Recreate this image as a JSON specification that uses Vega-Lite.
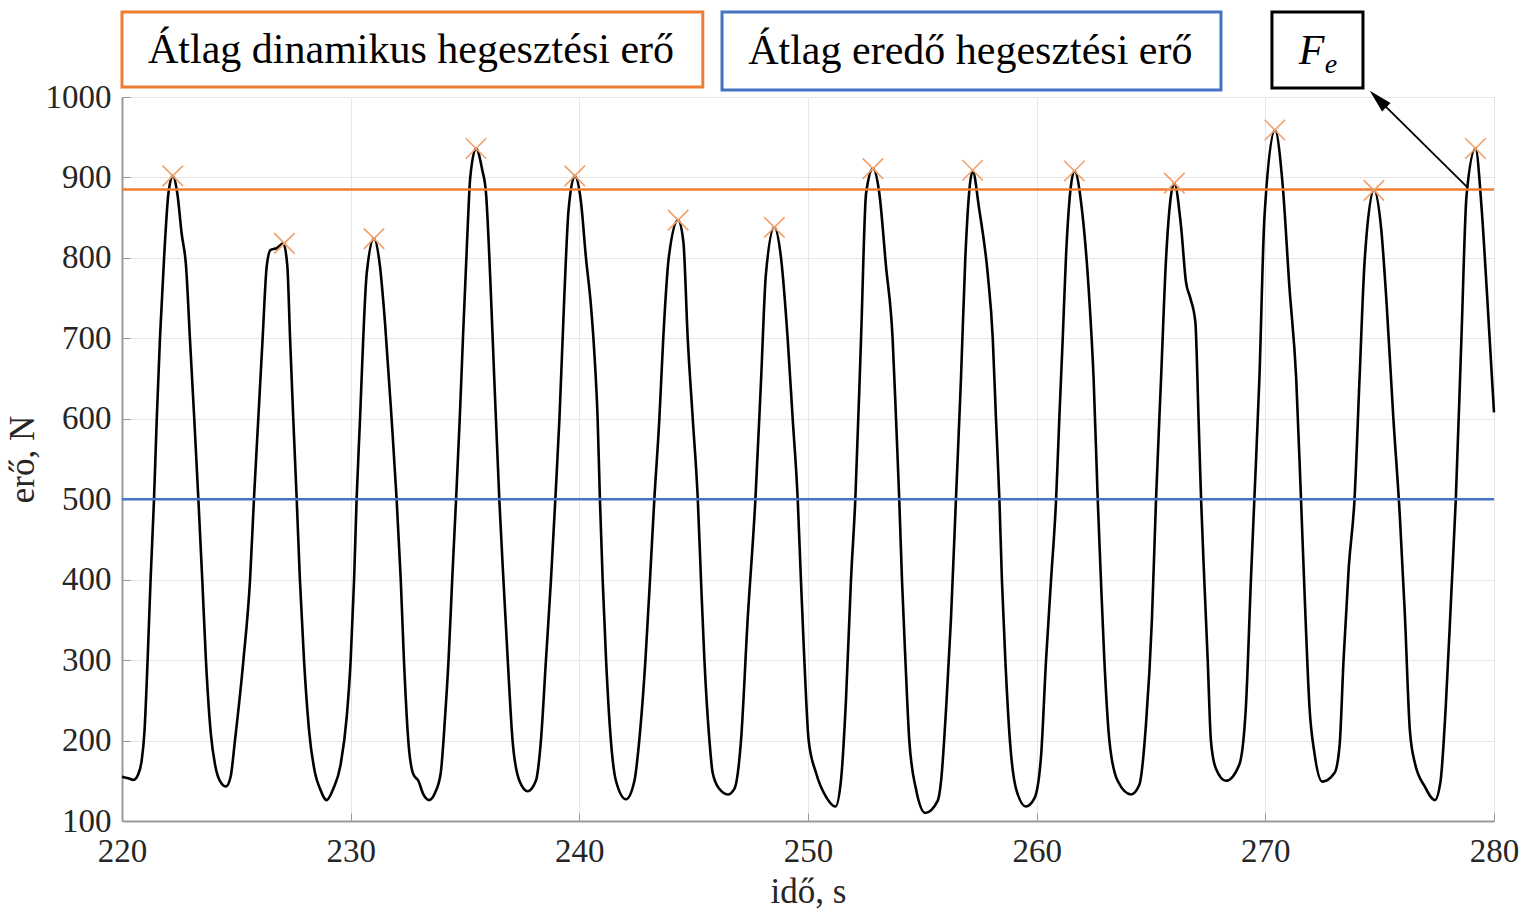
{
  "$schema": "https://vega.github.io/schema/vega-lite/v6.json",
  "width": 1372,
  "height": 724,
  "autosize": {"type": "none"},
  "padding": {"left": 122, "top": 97, "right": 30, "bottom": 89},
  "background": "white",
  "config": {
    "view": {"stroke": "#d4d4d4", "strokeWidth": 1},
    "axis": {
      "labelFont": "Liberation Serif",
      "titleFont": "Liberation Serif",
      "labelFontSize": 33,
      "titleFontSize": 35,
      "labelColor": "#262626",
      "titleColor": "#262626",
      "titleFontWeight": "normal",
      "gridColor": "#e6e6e6",
      "gridWidth": 1,
      "domainColor": "#9a9a9a",
      "domainWidth": 2,
      "tickColor": "#9a9a9a",
      "tickWidth": 1,
      "labelFlush": false
    }
  },
  "datasets": {
    "series": [
      {"t":220.0,"f":155},{"t":220.28,"f":153},{"t":220.5,"f":151},{"t":220.71,"f":158},{"t":220.86,"f":175},{"t":220.98,"f":210},{"t":221.12,"f":300},{"t":221.25,"f":400},{"t":221.4,"f":500},{"t":221.52,"f":600},{"t":221.66,"f":700},{"t":221.84,"f":800},{"t":222.03,"f":880},{"t":222.22,"f":902},{"t":222.42,"f":880},{"t":222.61,"f":830},{"t":222.8,"f":790},{"t":222.97,"f":700},{"t":223.16,"f":600},{"t":223.34,"f":500},{"t":223.51,"f":400},{"t":223.67,"f":300},{"t":223.88,"f":210},{"t":224.07,"f":170},{"t":224.28,"f":150},{"t":224.55,"f":143},{"t":224.75,"f":155},{"t":224.94,"f":200},{"t":225.31,"f":300},{"t":225.6,"f":400},{"t":225.77,"f":500},{"t":225.96,"f":600},{"t":226.15,"f":700},{"t":226.33,"f":790},{"t":226.5,"f":810},{"t":226.76,"f":812},{"t":227.06,"f":818},{"t":227.23,"f":790},{"t":227.35,"f":700},{"t":227.49,"f":600},{"t":227.64,"f":500},{"t":227.78,"f":400},{"t":227.96,"f":300},{"t":228.19,"f":210},{"t":228.44,"f":160},{"t":228.66,"f":140},{"t":228.95,"f":126},{"t":229.24,"f":140},{"t":229.56,"f":170},{"t":229.83,"f":230},{"t":230.0,"f":300},{"t":230.15,"f":400},{"t":230.26,"f":500},{"t":230.41,"f":600},{"t":230.55,"f":700},{"t":230.7,"f":780},{"t":231.02,"f":824},{"t":231.28,"f":790},{"t":231.5,"f":720},{"t":231.79,"f":600},{"t":232.01,"f":500},{"t":232.19,"f":400},{"t":232.33,"f":300},{"t":232.52,"f":200},{"t":232.74,"f":158},{"t":232.96,"f":150},{"t":233.18,"f":133},{"t":233.44,"f":126},{"t":233.69,"f":135},{"t":233.94,"f":160},{"t":234.13,"f":230},{"t":234.28,"f":300},{"t":234.44,"f":400},{"t":234.61,"f":500},{"t":234.77,"f":600},{"t":234.91,"f":700},{"t":235.09,"f":820},{"t":235.23,"f":900},{"t":235.48,"f":936},{"t":235.75,"f":910},{"t":235.92,"f":880},{"t":236.14,"f":750},{"t":236.28,"f":650},{"t":236.5,"f":500},{"t":236.68,"f":400},{"t":236.87,"f":300},{"t":237.08,"f":200},{"t":237.38,"f":150},{"t":237.74,"f":137},{"t":238.1,"f":150},{"t":238.32,"f":200},{"t":238.54,"f":300},{"t":238.76,"f":400},{"t":238.95,"f":500},{"t":239.13,"f":600},{"t":239.34,"f":750},{"t":239.53,"f":860},{"t":239.8,"f":902},{"t":240.07,"f":870},{"t":240.29,"f":800},{"t":240.51,"f":740},{"t":240.66,"f":680},{"t":240.8,"f":600},{"t":240.9,"f":500},{"t":241.02,"f":400},{"t":241.17,"f":300},{"t":241.38,"f":200},{"t":241.6,"f":150},{"t":242.04,"f":127},{"t":242.41,"f":150},{"t":242.62,"f":200},{"t":242.89,"f":300},{"t":243.09,"f":400},{"t":243.28,"f":500},{"t":243.5,"f":600},{"t":243.67,"f":700},{"t":243.91,"f":800},{"t":244.32,"f":847},{"t":244.55,"f":820},{"t":244.74,"f":700},{"t":244.96,"f":600},{"t":245.18,"f":500},{"t":245.32,"f":400},{"t":245.47,"f":300},{"t":245.69,"f":200},{"t":245.83,"f":160},{"t":246.12,"f":140},{"t":246.49,"f":133},{"t":246.78,"f":140},{"t":247.07,"f":200},{"t":247.36,"f":350},{"t":247.7,"f":500},{"t":247.95,"f":650},{"t":248.16,"f":780},{"t":248.53,"f":838},{"t":248.82,"f":800},{"t":249.11,"f":700},{"t":249.33,"f":600},{"t":249.55,"f":500},{"t":249.69,"f":400},{"t":249.84,"f":300},{"t":250.03,"f":200},{"t":250.35,"f":160},{"t":250.79,"f":130},{"t":251.2,"f":118},{"t":251.44,"f":150},{"t":251.66,"f":250},{"t":251.88,"f":400},{"t":252.07,"f":500},{"t":252.32,"f":700},{"t":252.54,"f":880},{"t":252.84,"f":911},{"t":253.12,"f":880},{"t":253.41,"f":790},{"t":253.7,"f":700},{"t":253.85,"f":600},{"t":253.99,"f":500},{"t":254.11,"f":400},{"t":254.26,"f":300},{"t":254.43,"f":200},{"t":254.72,"f":140},{"t":255.13,"f":110},{"t":255.67,"f":125},{"t":255.82,"f":150},{"t":256.06,"f":250},{"t":256.25,"f":350},{"t":256.47,"f":500},{"t":256.69,"f":650},{"t":256.88,"f":800},{"t":257.2,"f":908},{"t":257.49,"f":860},{"t":257.86,"f":780},{"t":258.08,"f":700},{"t":258.22,"f":600},{"t":258.37,"f":500},{"t":258.48,"f":400},{"t":258.63,"f":300},{"t":258.83,"f":200},{"t":259.1,"f":140},{"t":259.53,"f":118},{"t":259.9,"f":128},{"t":260.19,"f":180},{"t":260.41,"f":300},{"t":260.63,"f":400},{"t":260.85,"f":500},{"t":260.99,"f":600},{"t":261.14,"f":700},{"t":261.28,"f":800},{"t":261.65,"f":908},{"t":261.98,"f":860},{"t":262.3,"f":750},{"t":262.49,"f":650},{"t":262.67,"f":500},{"t":262.81,"f":400},{"t":262.96,"f":300},{"t":263.18,"f":200},{"t":263.54,"f":150},{"t":264.13,"f":133},{"t":264.49,"f":145},{"t":264.78,"f":220},{"t":265.04,"f":350},{"t":265.22,"f":500},{"t":265.44,"f":650},{"t":265.66,"f":800},{"t":266.02,"f":893},{"t":266.31,"f":840},{"t":266.53,"f":770},{"t":266.72,"f":750},{"t":266.94,"f":720},{"t":267.08,"f":600},{"t":267.19,"f":500},{"t":267.33,"f":400},{"t":267.48,"f":300},{"t":267.62,"f":200},{"t":267.84,"f":165},{"t":268.28,"f":150},{"t":268.86,"f":170},{"t":269.15,"f":242},{"t":269.37,"f":400},{"t":269.52,"f":500},{"t":269.74,"f":650},{"t":269.96,"f":850},{"t":270.42,"f":959},{"t":270.76,"f":890},{"t":271.05,"f":765},{"t":271.35,"f":650},{"t":271.56,"f":500},{"t":271.75,"f":358},{"t":271.93,"f":242},{"t":272.15,"f":184},{"t":272.49,"f":149},{"t":273.03,"f":160},{"t":273.25,"f":195},{"t":273.42,"f":300},{"t":273.65,"f":416},{"t":273.9,"f":500},{"t":274.12,"f":650},{"t":274.34,"f":795},{"t":274.75,"f":884},{"t":275.07,"f":835},{"t":275.3,"f":745},{"t":275.6,"f":600},{"t":275.88,"f":480},{"t":276.1,"f":358},{"t":276.32,"f":213},{"t":276.54,"f":172},{"t":276.97,"f":143},{"t":277.41,"f":126},{"t":277.66,"f":149},{"t":277.89,"f":242},{"t":278.14,"f":387},{"t":278.33,"f":500},{"t":278.58,"f":704},{"t":278.8,"f":878},{"t":279.19,"f":936},{"t":279.46,"f":861},{"t":279.68,"f":762},{"t":280.0,"f":608}
    ],
    "peaks": [
      {"t":222.22,"f":902},{"t":227.1,"f":818},{"t":231.02,"f":824},{"t":235.48,"f":936},{"t":239.8,"f":902},{"t":244.32,"f":847},{"t":248.53,"f":838},{"t":252.84,"f":911},{"t":257.2,"f":909},{"t":261.65,"f":908},{"t":266.02,"f":893},{"t":270.42,"f":959},{"t":274.75,"f":884},{"t":279.19,"f":936}
    ],
    "refs": [
      {"name":"dinamikus","f":885},
      {"name":"eredo","f":500}
    ],
    "boxes": [
      {"name":"dinamikus","x1":220.0,"x2":245.4,"y1":1012.4,"y2":1105.7},
      {"name":"eredo","x1":246.24,"x2":268.06,"y1":1008.7,"y2":1105.7},
      {"name":"fe","x1":270.29,"x2":274.27,"y1":1011.2,"y2":1105.7}
    ],
    "labels": [
      {"name":"dinamikus","t":232.64,"f":1058,"text":"Átlag dinamikus hegesztési erő"},
      {"name":"eredo","t":257.1,"f":1057,"text":"Átlag eredő hegesztési erő"}
    ],
    "arrow": [
      {"t":278.86,"f":887,"t2":274.98,"f2":996}
    ]
  },
  "layer": [
    {
      "data": {"name": "series"},
      "mark": {"type": "line", "color": "black", "strokeWidth": 2.6, "interpolate": "monotone"},
      "encoding": {
        "x": {"field": "t", "type": "quantitative", "scale": {"domain": [220, 280], "nice": false, "zero": false},
          "axis": {"values": [220,230,240,250,260,270,280], "title": "idő, s", "grid": true, "tickSize": -8, "labelPadding": 22, "titlePadding": 6, "format": "d"}},
        "y": {"field": "f", "type": "quantitative", "scale": {"domain": [100, 1000], "nice": false, "zero": false},
          "axis": {"values": [100,200,300,400,500,600,700,800,900,1000], "title": "erő, N", "grid": true, "tickSize": -8, "labelPadding": 19, "titlePadding": 5, "format": "d"}}
      }
    },
    {
      "data": {"name": "refs"},
      "mark": {"type": "rule", "strokeWidth": 2.5},
      "encoding": {
        "y": {"field": "f", "type": "quantitative"},
        "color": {"field": "name", "type": "nominal", "scale": {"domain": ["dinamikus","eredo"], "range": ["#ED7D31","#4472C4"]}, "legend": null}
      }
    },
    {
      "data": {"name": "peaks"},
      "mark": {"type": "point", "shape": "M-1,-1L1,1M-1,1L1,-1", "size": 420, "filled": false, "stroke": "#F2A06A", "strokeWidth": 1.6, "opacity": 1},
      "encoding": {
        "x": {"field": "t", "type": "quantitative"},
        "y": {"field": "f", "type": "quantitative"}
      }
    },
    {
      "data": {"name": "boxes"},
      "mark": {"type": "rect", "fill": "white", "strokeWidth": 3, "clip": false},
      "encoding": {
        "x": {"field": "x1", "type": "quantitative"},
        "x2": {"field": "x2"},
        "y": {"field": "y1", "type": "quantitative"},
        "y2": {"field": "y2"},
        "stroke": {"field": "name", "type": "nominal", "scale": {"domain": ["dinamikus","eredo","fe"], "range": ["#ED7D31","#4472C4","#000000"]}, "legend": null}
      }
    },
    {
      "data": {"name": "labels"},
      "mark": {"type": "text", "font": "Liberation Serif", "fontSize": 42, "color": "black", "align": "center", "baseline": "middle", "clip": false},
      "encoding": {
        "x": {"field": "t", "type": "quantitative"},
        "y": {"field": "f", "type": "quantitative"},
        "text": {"field": "text"}
      }
    },
    {
      "data": {"values": [{"t": 272.02, "f": 1057, "s": "F"}]},
      "mark": {"type": "text", "font": "Liberation Serif", "fontSize": 42, "fontStyle": "italic", "color": "black", "align": "center", "baseline": "middle", "clip": false},
      "encoding": {
        "x": {"field": "t", "type": "quantitative"},
        "y": {"field": "f", "type": "quantitative"},
        "text": {"field": "s"}
      }
    },
    {
      "data": {"values": [{"t": 272.87, "f": 1040, "s": "e"}]},
      "mark": {"type": "text", "font": "Liberation Serif", "fontSize": 28, "fontStyle": "italic", "color": "black", "align": "center", "baseline": "middle", "clip": false},
      "encoding": {
        "x": {"field": "t", "type": "quantitative"},
        "y": {"field": "f", "type": "quantitative"},
        "text": {"field": "s"}
      }
    },
    {
      "data": {"name": "arrow"},
      "mark": {"type": "rule", "color": "black", "strokeWidth": 1.8, "clip": false},
      "encoding": {
        "x": {"field": "t", "type": "quantitative"},
        "y": {"field": "f", "type": "quantitative"},
        "x2": {"field": "t2"},
        "y2": {"field": "f2"}
      }
    },
    {
      "data": {"name": "arrow"},
      "mark": {"type": "point", "shape": "M0,-1L-0.45,0.75L0.45,0.75Z", "size": 720, "filled": true, "fill": "black", "strokeWidth": 0, "opacity": 1, "angle": -45, "clip": false},
      "encoding": {
        "x": {"field": "t2", "type": "quantitative"},
        "y": {"field": "f2", "type": "quantitative"}
      }
    }
  ]
}
